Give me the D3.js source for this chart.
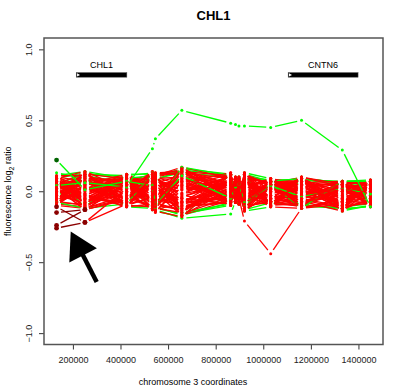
<!DOCTYPE html>
<html>
<head>
<meta charset="utf-8">
<script src="https://cdn.jsdelivr.net/npm/d3@7"></script>
<style>
  body { margin: 0; background: #fff; }
  svg { display: block; font-family: "Liberation Sans", Arial, Helvetica, sans-serif; }
</style>
</head>
<body>
<svg id="chart" width="400" height="388"></svg>
<script>
// probe positions on chromosome 3
var probePos = [131300, 250500, 425800, 534100, 546700, 657900, 863000, 883200, 897800, 920900, 1031300, 1160900, 1332100, 1450400];

// log2 ratios per sample, in hundredths, one value per probe
var redSamples = [
  [ 8, -5, 10, 2, -9, 15, -4, 6, -2, 9, -7, 3, -10, 5],
  [-6, 12, -3, -11, 7, -2, 11, -5, 8, -12, 4, -9, 2, -8],
  [ 2, 4, -8, 9, 3, -15, 6, 1, -7, 3, 8, 7, -4, 1],
  [-9, -11, 6, -4, -12, 10, -8, 9, 3, -6, -3, -11, 5, -10],
  [10, 7, 1, 13, 11, -7, 2, -3, 9, 12, -9, 9, -12, 7],
  [-3, -8, 11, -7, 0, 5, -10, 4, -4, -2, 6, -5, 6, -3],
  [ 5, 13, -10, 6, -5, 17, 9, -7, 1, -10, 2, 1, -7, 4],
  [-1, 0, 4, -12, 9, -11, -1, 7, -8, 7, -10, -8, 3, -6],
  [ 7, -12, -5, 11, -14, 3, 12, -1, 6, -4, 9, 5, -13, 8],
  [-7, 9, 8, 0, 5, -17, -6, 10, -6, 11, -5, -3, 0, -1],
  [ 4, -2, -11, -9, 12, 12, 4, -8, 10, -13, 5, 10, -9, 2],
  [-10, 5, 3, 8, -3, -5, -9, 2, -9, 5, -11, -12, 7, -11],
  [ 0, 11, -7, -2, 2, 8, 7, -4, 4, -8, 7, 2, -2, 6],
  [ 9, -9, 12, 4, -10, -13, 0, 8, -1, 1, -2, -10, 4, -5],
  [-4, 3, -1, -13, 8, 1, 10, -6, 7, -11, 3, 8, -11, 3],
  [ 6, -6, 7, 12, -7, -9, -3, 3, -5, 8, -8, -4, -6, -9],
  [-8, 14, -9, -5, 13, 14, 5, -2, 2, -5, 1, 6, 1, 0],
  [ 3, -13, 5, 7, -1, -3, -7, 6, -3, 13, -6, -7, -14, 7],
  [-2, 6, -4, -10, 4, 6, 13, 0, 5, -9, 8, 4, 5, -7],
  [11, -3, 9, 3, -13, -8, -5, 5, -7, 4, -4, -1, -8, 2],
  [-5, 8, -6, 10, 6, 11, 3, -5, 9, -3, 0, 9, -3, -4],
  [ 1, -10, 2, -8, -8, -14, 8, 4, -2, 10, -9, -6, 6, 5],
  [-9, 2, 10, 5, 10, 4, -2, -8, 8, -14, 4, 3, -5, -2],
  [ 8, -7, -2, -6, -4, 16, 1, 9, -9, 2, -7, -11, 2, -10],
  [-3, 10, 0, 14, 1, -10, -8, 1, 0, -7, 6, 0, -1, 6],
  [ 5, -4, -8, -1, -11, 9, 11, -3, 4, 6, -1, 7, -10, -3],
  [-6, 1, 6, 1, 7, -16, -4, 7, -4, -1, 2, -9, 4, 1],
  [ 2, 12, -3, -3, -6, 2, 6, -6, 3, 9, -10, 5, -7, -8],
  [-1, -5, 8, 9, 3, -6, -1, 2, -6, -6, 7, -2, 7, 4],
  [10, 3, -10, -11, -2, 13, 9, -1, 6, 0, -3, 1, -12, -6],
  [ 7, 2, -4, 5, -15, 7, -7, 3, -8, 11, 1, -7, 0, 8],
  [-8, -9, 9, -3, 6, -1, 10, -7, 1, -12, 9, -1, -9, -4],
  [ 3, 10, -11, 13, -2, -12, 2, 10, -5, 5, -6, 10, 3, -11],
  [-5, -1, 5, -9, 11, 17, -5, -2, 9, -3, 3, -12, -5, 3],
  [ 9, 14, 1, 0, -8, -4, 6, 6, -9, 8, -11, 4, 6, -2],
  [-2, -6, -7, 11, 3, 9, -10, -4, 3, -9, 7, -6, -12, 5],
  [ 1, 5, 12, -6, -14, -18, 12, 8, -3, 0, -4, 6, 7, -7],
  [-10, -12, -3, 6, 8, 3, -3, -5, 7, 12, 5, -9, -2, 2],
  [ 6, 8, 7, -12, 0, -7, 4, 1, -7, -10, -8, 2, -13, -5],
  [-4, -3, -9, 3, 12, 15, -9, 9, 10, 4, 8, -3, 5, 7],
  [11, 11, 4, -2, -5, -10, 8, -8, -1, -14, 0, 9, -6, -1],
  [-7, -10, -1, 8, 4, 6, -6, 5, 5, 7, -9, -10, 1, -9],
  [ 4, 1, 10, -8, -12, -15, 13, -3, -4, -5, 6, 7, -10, 4],
  [-3, 13, -6, 14, 9, 10, -1, 4, 8, 13, -5, -4, 4, -6],
  [ 8, -8, 3, -5, -3, -2, 5, -6, -8, -2, 4, -11, -8, 6],
  [-9, 4, 11, 1, 13, 12, -8, 7, 0, 9, -10, 3, 6, -10],
  [ 2, -13, -5, -11, -9, -13, 7, -1, 9, -7, 2, 8, -14, 1],
  [-6, 9, 6, 9, 5, 7, -4, 2, -6, 3, 9, -8, 2, -3],
  [10, -4, -10, -4, -1, -17, 1, 8, 6, -11, -7, 5, -4, 8],
  [-1, 7, 2, 12, 10, 14, 11, -7, -2, 6, 1, -5, -11, -8],
  [ 5, -11, 8, -10, -6, -5, -9, 0, 7, -13, -3, 10, 5, 2],
  [-8, 3, -8, 4, 7, 1, 3, 6, -9, 10, 5, -2, -7, -4],
  [ 0, 12, 9, -7, -11, 11, -7, -6, 4, -1, -11, 7, 3, 5],
  [ 9, -6, -3, 10, 2, -9, 9, 10, -5, 8, 7, -12, -9, -9],
  [-5, 6, 5, -1, -13, 16, -2, -4, 2, -8, -1, 1, 7, 0],
  [ 3, -2, -11, 7, 11, -14, 6, 3, -7, 12, 3, -7, -3, 7],
  [-9, 10, 0, -13, -4, 4, -5, -8, 8, -4, -9, 9, -12, -6],
  [ 6, -12, 11, 2, 6, -8, 12, 5, -2, 2, 8, -1, 0, 3],
  [-2, 2, -5, 13, -10, 13, 0, -3, 10, -12, -5, -10, 6, -11],
  [ 7, -9, 7, -6, 1, -11, -8, 9, -8, 5, 6, 4, -10, 4]
];
var greenSamples = [
  [ 5, 12, 11, 13, 10, 16, 12, 9, 9, 12, 7, 9, 6, 6],
  [13, 9, -11, -12, -13, -19, -16, -7, -8, -13, -8, -10, -12, -11],
  [ 9, 13, 8, -9, 12, 14, -9, 8, 7, 10, 8, 8, 7, 7],
  [ 2, 7, -9, 10, -11, -17, -8, -6, -7, -11, 3, -9, -13, -10],
  [-4, 11, 6, -13, 9, 13, 10, 6, 8, 11, -9, 8, 5, 5],
  [ 6, -8, 10, 8, -12, -16, -10, -8, -9, -12, 6, -11, -11, -9],
  [ 8, -11, 12, 12, 8, 15, 11, 10, 8, 13, 9, -11, 7, 8],
  [-9, 10, -10, -11, -14, -18, 12, -8, -9, -14, -11, 10, -14, -10],
  [11, 14, 9, 11, 11, -15, -9, 9, 10, 10, 7, 9, 6, -9],
  [-8, -12, -9, 13, -12, 17, 11, -7, -8, -10, 5, -12, 7, 7]
];
var darkRedSamples = [
  [-11, -22, -9, 3, -6, 8, 2, -3, 5, -4, -6, 4, -8, 3],
  [-15, -13, 6, -7, 10, -4, 8, 4, -6, 6, 1, -5, 3, -5],
  [-24, -13, -6, 9, 4, -12, -3, 7, 2, -9, 5, 6, -4, 0],
  [-26, -22, 2, -4, -9, 15, 5, -5, -3, 3, -7, -2, 1, 6]
];
var darkGreenSample = [22, 1, 7, 4, -9, 11, -5, 3, 5, -8, 4, -4, 2, -2];
var greenOutlier = [4, 6, 3, 30, 37, 57, 48, 47, 46, 46, 45, 50, 29, -11];
var redOutlier = [3, -2, 4, -6, 2, -8, -4, -6, -5, -21, -44, -12, -6, 2];

var genes = ["CHL1", "CNTN6"];
var geneStart = [214000, 1104700];
var geneEnd = [426700, 1398400];

var xTicks = [200000, 400000, 600000, 800000, 1000000, 1200000, 1400000];
var yTicks = [-1, -0.5, 0, 0.5, 1];

var svg = d3.select("#chart"),
    margin = {top: 38, right: 17, bottom: 43.5, left: 44},
    width = +svg.attr("width") - margin.left - margin.right,
    height = +svg.attr("height") - margin.top - margin.bottom;

// R style 4% padding on the x range
var xExt = d3.extent(probePos), pad = (xExt[1] - xExt[0]) * 0.04;
var x = d3.scaleLinear().domain([xExt[0] - pad, xExt[1] + pad]).range([margin.left, margin.left + width]);
var y = d3.scaleLinear().domain([-1.08, 1.08]).range([margin.top + height, margin.top]);

var plot = svg.append("g");
var gap = 4.5;

// type = "b": segments stop short of the points
function drawSample(vals, lineColor, pointColor, r, firstColor) {
    var pts = vals.map(function(v, i) { return [x(probePos[i]), y(v / 100)]; });
    var segs = [];
    for (var i = 0; i < pts.length - 1; i++) {
        var a = pts[i], b = pts[i + 1],
            dx = b[0] - a[0], dy = b[1] - a[1],
            d = Math.sqrt(dx * dx + dy * dy);
        if (d <= 2 * gap) continue;
        var k = gap / d;
        segs.push({x1: a[0] + dx * k, y1: a[1] + dy * k, x2: b[0] - dx * k, y2: b[1] - dy * k,
                   c: (firstColor && i === 0) ? firstColor : lineColor});
    }
    plot.selectAll(null).data(segs).enter().append("line")
        .attr("x1", function(d) { return d.x1; })
        .attr("y1", function(d) { return d.y1; })
        .attr("x2", function(d) { return d.x2; })
        .attr("y2", function(d) { return d.y2; })
        .attr("stroke", function(d) { return d.c; })
        .attr("stroke-width", 1.3);
    plot.selectAll(null).data(pts).enter().append("circle")
        .attr("cx", function(d) { return d[0]; })
        .attr("cy", function(d) { return d[1]; })
        .attr("r", r)
        .attr("fill", pointColor);
}

greenSamples.slice(0, 8).forEach(function(s) { drawSample(s, "#00ff00", "#00ff00", 1.5); });
redSamples.forEach(function(s, i) {
    drawSample(s, "#ff0000", "#ff0000", 1.5);
    if (i === 20 || i === 45) drawSample(greenSamples[i === 20 ? 8 : 9], "#00ff00", "#00ff00", 1.5);
});
drawSample(darkGreenSample, "#00ff00", "#00ff00", 1.5);
darkRedSamples.forEach(function(s) { drawSample(s, "#ff0000", "#ff0000", 1.5, "#8b0000"); });
drawSample(greenOutlier, "#00ff00", "#00ff00", 1.5);
drawSample(redOutlier, "#ff0000", "#ff0000", 1.5);

// highlighted points at the first two probes
var hl = [];
darkRedSamples.forEach(function(s) { hl.push({i: 0, v: s[0], c: "#8b0000"}, {i: 1, v: s[1], c: "#8b0000"}); });
hl.push({i: 0, v: darkGreenSample[0], c: "#006400"});
plot.selectAll(".hl").data(hl).enter().append("circle")
    .attr("cx", function(d) { return x(probePos[d.i]); })
    .attr("cy", function(d) { return y(d.v / 100); })
    .attr("r", 2.4)
    .attr("fill", function(d) { return d.c; });

// gene track
var geneY = y(0.82), labelY = y(0.868);
var gene = svg.selectAll(".gene").data(genes).enter().append("g").attr("class", "gene");
gene.append("rect")
    .attr("x", function(d, i) { return x(geneStart[i]); })
    .attr("y", geneY - 2.3)
    .attr("width", function(d, i) { return x(geneEnd[i]) - x(geneStart[i]); })
    .attr("height", 4.6)
    .attr("fill", "#000")
    .attr("stroke", "#555")
    .attr("stroke-width", 0.5);
gene.append("path")
    .attr("d", function(d, i) {
        var s = x(geneStart[i]) + 0.8;
        return "M" + s + "," + (geneY - 1.7) + "L" + (s + 3) + "," + geneY + "L" + s + "," + (geneY + 1.7) + "Z";
    })
    .attr("fill", "#fff");
gene.append("text")
    .attr("x", function(d, i) { return (x(geneStart[i]) + x(geneEnd[i])) / 2; })
    .attr("y", labelY)
    .attr("text-anchor", "middle")
    .attr("font-size", 9)
    .text(function(d) { return d; });

// arrow pointing at the CHL1 deletion
var tip = [x(190900), y(-0.283)], tail = [x(300000), y(-0.639)];
var ang = Math.atan2(tail[1] - tip[1], tail[0] - tip[0]);
var headLen = 27, headW = 15.5;
var bx = tip[0] + Math.cos(ang) * headLen, by = tip[1] + Math.sin(ang) * headLen;
var nx = -Math.sin(ang), ny = Math.cos(ang);
svg.append("line")
    .attr("x1", bx - Math.cos(ang) * 3).attr("y1", by - Math.sin(ang) * 3)
    .attr("x2", tail[0]).attr("y2", tail[1])
    .attr("stroke", "#000").attr("stroke-width", 4.5);
svg.append("path")
    .attr("d", "M" + tip[0] + "," + tip[1] +
        "L" + (bx + nx * headW) + "," + (by + ny * headW) +
        "L" + (bx - nx * headW) + "," + (by - ny * headW) + "Z")
    .attr("fill", "#000");

// axes
var xAxis = svg.append("g").attr("transform", "translate(0," + (margin.top + height) + ")")
    .call(d3.axisBottom(x).tickValues(xTicks).tickSize(5).tickPadding(7).tickFormat(d3.format("d")));
var yAxis = svg.append("g").attr("transform", "translate(" + margin.left + ",0)")
    .call(d3.axisLeft(y).tickValues(yTicks).tickSize(5).tickFormat(d3.format(".1f")));
xAxis.select(".domain").remove();
yAxis.select(".domain").remove();
svg.selectAll(".tick line").attr("stroke", "#333");
xAxis.selectAll("text").attr("font-size", 9).attr("font-family", null).attr("fill", "#222");
yAxis.selectAll("text")
    .attr("font-size", 9).attr("font-family", null).attr("fill", "#222")
    .attr("text-anchor", "middle")
    .attr("x", null).attr("dy", null)
    .attr("transform", "translate(-15,0) rotate(-90)")
    .attr("dominant-baseline", "central");

// frame
svg.append("rect")
    .attr("x", margin.left).attr("y", margin.top)
    .attr("width", width).attr("height", height)
    .attr("fill", "none").attr("stroke", "#555").attr("stroke-width", 1.5);

// titles
svg.append("text")
    .attr("x", margin.left + width / 2).attr("y", 20)
    .attr("text-anchor", "middle").attr("font-size", 13).attr("font-weight", "bold")
    .text("CHL1");
svg.append("text")
    .attr("x", 193).attr("y", 385)
    .attr("text-anchor", "middle").attr("font-size", 9)
    .text("chromosome 3 coordinates");
var yl = svg.append("text")
    .attr("transform", "translate(11," + (margin.top + height / 2) + ") rotate(-90)")
    .attr("text-anchor", "middle").attr("font-size", 9);
yl.append("tspan").text("fluorescence log");
yl.append("tspan").attr("font-size", 7).attr("dy", 2.5).text("2");
yl.append("tspan").attr("dy", -2.5).text(" ratio");
</script>
</body>
</html>
